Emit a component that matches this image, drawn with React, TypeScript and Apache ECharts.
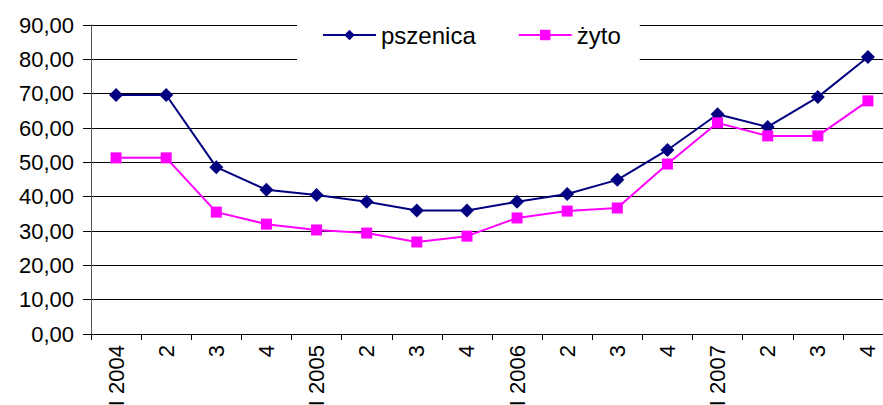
import React, { useEffect, useRef } from "react";
import * as echarts from "echarts";

const categories = ["I 2004", "2", "3", "4", "I 2005", "2", "3", "4", "I 2006", "2", "3", "4", "I 2007", "2", "3", "4"];
const pszenica = [69.6, 69.6, 48.6, 42.0, 40.5, 38.5, 36.0, 36.0, 38.5, 40.8, 44.9, 53.6, 64.0, 60.3, 69.0, 80.7];
const zyto = [51.3, 51.3, 35.5, 32.0, 30.3, 29.4, 26.8, 28.5, 33.8, 35.8, 36.7, 49.5, 61.5, 57.7, 57.7, 67.9];
const seriesNames = ["pszenica", "żyto"];

const FONT = "'Liberation Sans', Arial, sans-serif";

export default function App() {
  const ref = useRef<HTMLDivElement>(null);
  useEffect(() => {
    if (!ref.current) return;
    const chart = echarts.init(ref.current, null, { renderer: "svg" });
    chart.setOption({
      animation: false,
      backgroundColor: "#ffffff",
      textStyle: { fontFamily: FONT, color: "#000" },
      grid: { left: 91, right: -10, top: 25, bottom: 71, containLabel: false, outerBoundsMode: "none" },
      legend: {
        data: seriesNames,
        left: 297,
        top: 14,
        padding: [9, 19, 20, 25],
        backgroundColor: "#ffffff",
        itemWidth: 53,
        itemHeight: 13,
        itemGap: 42,
        textStyle: { fontSize: 24, fontFamily: FONT, color: "#000" },
      },
      xAxis: {
        type: "category",
        data: categories,
        boundaryGap: true,
        axisLine: { lineStyle: { color: "#000", width: 1 } },
        axisTick: { show: true, length: 6, lineStyle: { color: "#000" }, interval: 0 },
        axisLabel: { interval: 0, rotate: 90, fontSize: 22, color: "#000", margin: 11, fontFamily: FONT },
      },
      yAxis: {
        type: "value",
        min: 0,
        max: 90,
        interval: 10,
        axisLine: { show: true, lineStyle: { color: "#555", width: 1 } },
        axisTick: { show: true, length: 8, lineStyle: { color: "#000" } },
        axisLabel: {
          fontSize: 22,
          color: "#000",
          margin: 17,
          fontFamily: FONT,
          formatter: (v: number) => v.toFixed(2).replace(".", ","),
        },
        splitLine: { show: true, lineStyle: { color: "#000", width: 1 } },
      },
      series: [
        {
          name: seriesNames[0],
          type: "line",
          data: pszenica,
          symbol: "diamond",
          symbolSize: 14,
          itemStyle: { color: "#000080" },
          lineStyle: { color: "#000080", width: 2 },
        },
        {
          name: seriesNames[1],
          type: "line",
          data: zyto,
          symbol: "rect",
          symbolSize: 11,
          itemStyle: { color: "#ff00ff" },
          lineStyle: { color: "#ff00ff", width: 2 },
        },
      ],
    });
    return () => chart.dispose();
  }, []);
  return <div ref={ref} style={{ position: "fixed", left: 0, top: 0, width: 883, height: 405 }} />;
}
